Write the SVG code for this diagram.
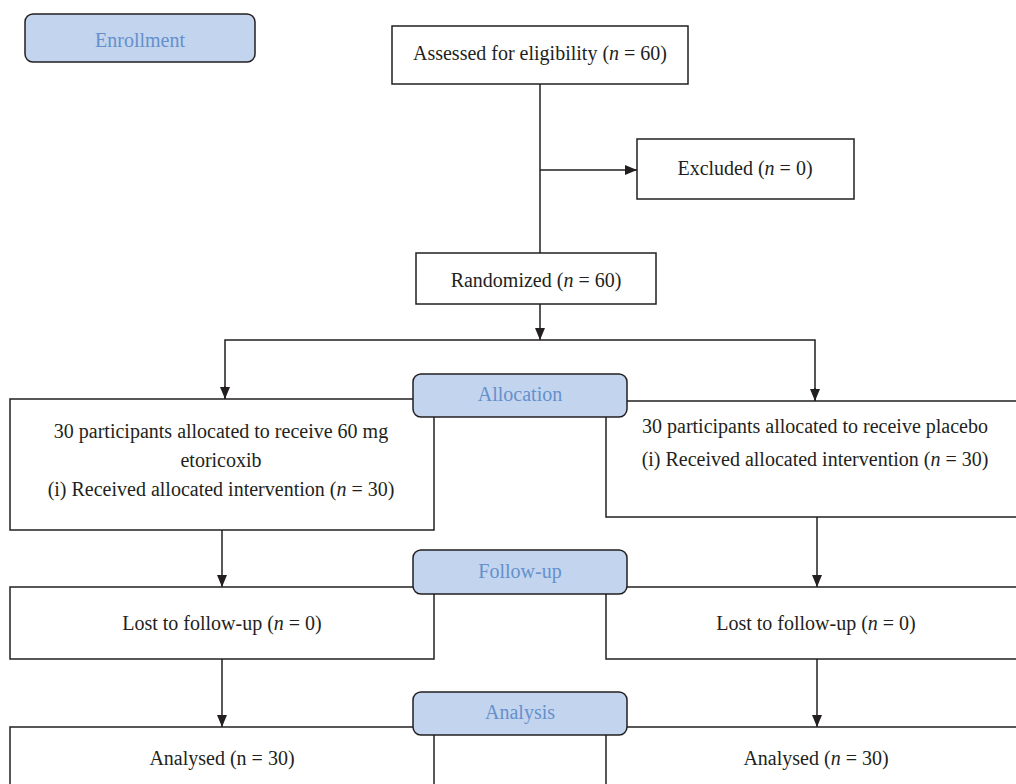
<svg xmlns="http://www.w3.org/2000/svg" width="1016" height="784" viewBox="0 0 1016 784">
<style>
.box{fill:#fff;stroke:#231f20;stroke-width:1.5}
.lbl{fill:#c3d4ef;stroke:#231f20;stroke-width:1.5}
.t{font-family:"Liberation Serif",serif;font-size:20px;fill:#231f20;text-anchor:middle}
.lt{font-family:"Liberation Serif",serif;font-size:20px;fill:#6490cb;text-anchor:middle}
.c{fill:none;stroke:#231f20;stroke-width:1.5}
</style>
<defs>
<marker id="ah" viewBox="0 0 12 10" refX="12" refY="5" markerWidth="12" markerHeight="10" markerUnits="userSpaceOnUse" orient="auto">
<path d="M0,0 L12,5 L0,10 z" fill="#231f20"/>
</marker>
</defs>
<g id="connectors">
<line class="c" x1="540" y1="84" x2="540" y2="253"/>
<line class="c" x1="540" y1="170" x2="637" y2="170" marker-end="url(#ah)"/>
<line class="c" x1="540" y1="304" x2="540" y2="340" marker-end="url(#ah)"/>
<polyline class="c" points="225,399 225,340 815,340 815,401" />
<line class="c" x1="225" y1="386" x2="225" y2="399" marker-end="url(#ah)"/>
<line class="c" x1="815" y1="388" x2="815" y2="401" marker-end="url(#ah)"/>
<line class="c" x1="222" y1="530" x2="222" y2="587" marker-end="url(#ah)"/>
<line class="c" x1="817" y1="517" x2="817" y2="587" marker-end="url(#ah)"/>
<line class="c" x1="222" y1="659" x2="222" y2="727" marker-end="url(#ah)"/>
<line class="c" x1="817" y1="659" x2="817" y2="727" marker-end="url(#ah)"/>
</g>
<g id="enrollment"><rect class="lbl" x="25" y="14" width="230" height="48" rx="8"/><text class="lt" x="140" y="47">Enrollment</text></g>
<g id="assessed"><rect class="box" x="392" y="26" width="296" height="58"/><text class="t" x="540" y="60">Assessed for eligibility (<tspan font-style="italic">n</tspan> = 60)</text></g>
<g id="excluded"><rect class="box" x="637" y="139" width="217" height="60"/><text class="t" x="745" y="175">Excluded (<tspan font-style="italic">n</tspan> = 0)</text></g>
<g id="randomized"><rect class="box" x="416" y="253" width="240" height="51"/><text class="t" x="536" y="287">Randomized (<tspan font-style="italic">n</tspan> = 60)</text></g>
<g id="alloc-left"><rect class="box" x="10" y="399" width="424" height="131"/>
<text class="t" x="221" y="438">30 participants allocated to receive 60 mg</text>
<text class="t" x="221" y="467">etoricoxib</text>
<text class="t" x="221" y="496">(i) Received allocated intervention (<tspan font-style="italic">n</tspan> = 30)</text></g>
<g id="alloc-right"><rect class="box" x="606" y="401" width="420" height="116"/>
<text class="t" x="815" y="433">30 participants allocated to receive placebo</text>
<text class="t" x="815" y="466">(i) Received allocated intervention (<tspan font-style="italic">n</tspan> = 30)</text></g>
<g id="allocation"><rect class="lbl" x="413" y="374" width="214" height="43" rx="8"/><text class="lt" x="520" y="401">Allocation</text></g>
<g id="lost-left"><rect class="box" x="10" y="587" width="424" height="72"/><text class="t" x="222" y="630">Lost to follow-up (<tspan font-style="italic">n</tspan> = 0)</text></g>
<g id="lost-right"><rect class="box" x="606" y="587" width="420" height="72"/><text class="t" x="816" y="630">Lost to follow-up (<tspan font-style="italic">n</tspan> = 0)</text></g>
<g id="followup"><rect class="lbl" x="413" y="550" width="214" height="44" rx="8"/><text class="lt" x="520" y="578">Follow-up</text></g>
<g id="analysed-left"><rect class="box" x="10" y="727" width="424" height="80"/><text class="t" x="222" y="765">Analysed (n = 30)</text></g>
<g id="analysed-right"><rect class="box" x="606" y="727" width="420" height="80"/><text class="t" x="816" y="765">Analysed (<tspan font-style="italic">n</tspan> = 30)</text></g>
<g id="analysis"><rect class="lbl" x="413" y="692" width="214" height="43" rx="8"/><text class="lt" x="520" y="719">Analysis</text></g>
</svg>
